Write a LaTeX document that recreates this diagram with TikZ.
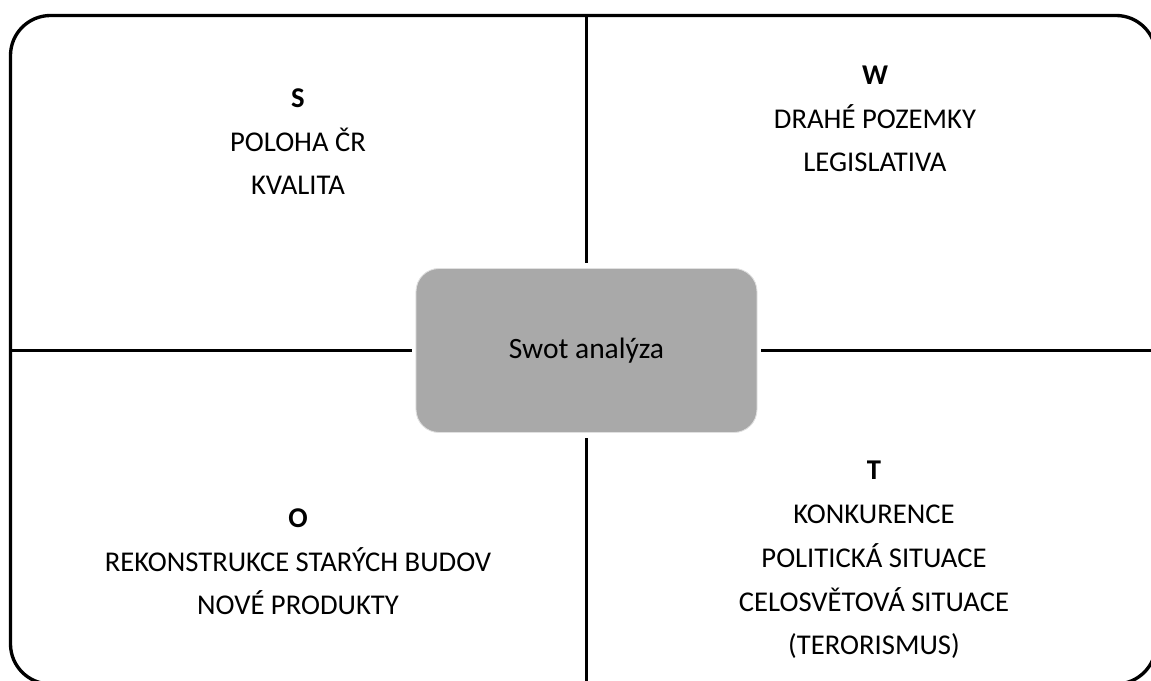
\documentclass[tikz,border=0pt]{standalone}
\usepackage{fontspec}
\setmainfont{Carlito}
\usetikzlibrary{positioning}
\definecolor{boxgray}{RGB}{169,169,169}
\tikzset{
	quadtext/.style={align=center,anchor=base,inner sep=0pt,font=\fontsize{16.3}{25}\selectfont},
	divline/.style={line width=1.8pt},
	swotbox/.style={fill=boxgray,draw=white!88!black,line width=0.5pt,rounded corners=4.6mm,minimum width=68.2mm,minimum height=32.8mm,font=\fontsize{16.8}{25}\selectfont}
}
\begin{document}
\begin{tikzpicture}[x=0.2mm,y=-0.2mm]
			\useasboundingbox (0,0) rectangle (1151,681);
			\clip (0,0) rectangle (1151,681);
			\draw [line width=1.9pt,rounded corners=8mm] (10.5,15.5) rectangle (1156,684);
			\node [swotbox,text depth=0.6ex] (swot) at (586.5,350.5) {Swot analýza};
			\coordinate (topmid) at (586.5,15.5);
			\coordinate (botmid) at (586.5,684);
			\coordinate (leftmid) at (10.5,350.5);
			\coordinate (rightmid) at (1156,350.5);
			\draw [divline,shorten >=1mm](topmid)--(swot.north);
			\draw [divline,shorten >=1mm](botmid)--(swot.south);
			\draw [divline,shorten >=0.8mm](leftmid)--(swot.west);
			\draw [divline,shorten >=0.8mm](rightmid)--(swot.east);
			% base = last line
			\node [quadtext] (s) at (298,195) {\textbf{S}\\POLOHA ČR\\KVALITA};
			\node [quadtext] (w) at (875,172) {\textbf{W}\\DRAHÉ POZEMKY\\LEGISLATIVA};
			\node [quadtext] (o) at (298,615) {\textbf{O}\\REKONSTRUKCE STARÝCH BUDOV\\NOVÉ PRODUKTY};
			\node [quadtext] (t) at (874,655) {\textbf{T}\\KONKURENCE\\POLITICKÁ SITUACE\\CELOSVĚTOVÁ SITUACE\\(TERORISMUS)};
		\end{tikzpicture}
\end{document}
